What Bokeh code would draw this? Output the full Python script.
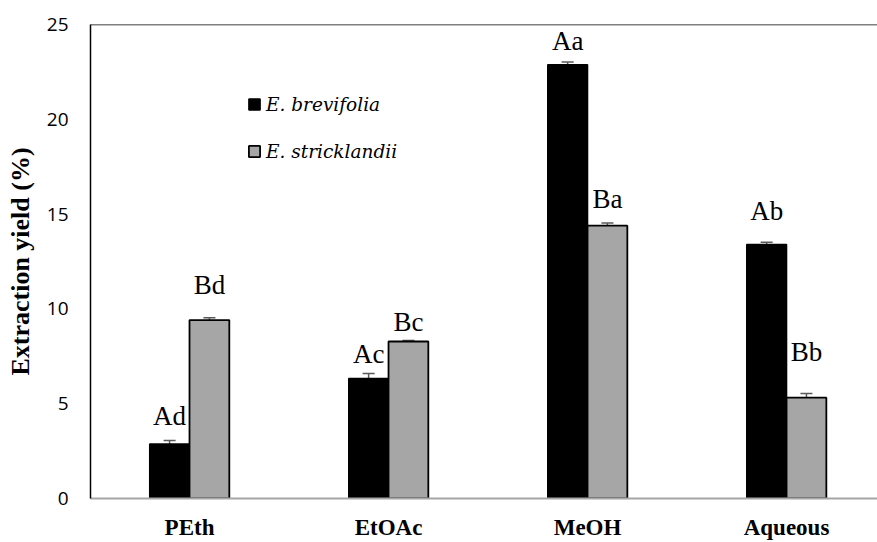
import numpy as np
from bokeh.plotting import figure
from bokeh.models import (ColumnDataSource, FixedTicker, Legend, LegendItem, Range1d,
                          Span, Whisker, TeeHead)
from bokeh.core.properties import value
from bokeh.embed import file_html
from bokeh.resources import INLINE

# ---- data ----
categories = ["PEth", "EtOAc", "MeOH", "Aqueous"]
series_names = ["E. brevifolia", "E. stricklandii"]
brevifolia = [2.87, 6.33, 22.88, 13.40]
brevifolia_err = [0.19, 0.26, 0.14, 0.12]
stricklandii = [9.41, 8.28, 14.39, 5.32]
stricklandii_err = [0.12, 0.05, 0.14, 0.22]
brevifolia_letters = ["Ad", "Ac", "Aa", "Ab"]
stricklandii_letters = ["Bd", "Bc", "Ba", "Bb"]
y_ticks = [0, 5, 10, 15, 20, 25]

# ---- style ----
BAR_W = 0.2
BLACK = "#000000"
GREY = "#a6a6a6"
ERR = "#5a5a5a"
brev_label_off = [24, 20, 21, 31]   # px above error cap
stri_label_off = [33, 19, 24, 41]

xc = np.arange(1, len(categories) + 1, dtype=float)
b_top = np.array(brevifolia) + np.array(brevifolia_err)
s_top = np.array(stricklandii) + np.array(stricklandii_err)

src_b = ColumnDataSource(dict(x=xc - BAR_W / 2, top=brevifolia, up=b_top,
                              lab=brevifolia_letters, off=[-o for o in brev_label_off]))
src_s = ColumnDataSource(dict(x=xc + BAR_W / 2, top=stricklandii, up=s_top,
                              lab=stricklandii_letters, off=[-o for o in stri_label_off]))

p = figure(width=877, height=542, output_backend="svg", toolbar_location=None,
           x_range=Range1d(0.5025, 4.457), y_range=Range1d(0, 25),
           min_border_left=90, min_border_right=0, min_border_top=24, min_border_bottom=39)
p.outline_line_color = None
p.xgrid.visible = False
p.ygrid.visible = False
p.background_fill_color = "white"
p.border_fill_color = "white"

rb = p.vbar(x="x", top="top", width=BAR_W, bottom=0, source=src_b,
            fill_color=BLACK, line_color=BLACK, line_width=1.5)
rs = p.vbar(x="x", top="top", width=BAR_W, bottom=0, source=src_s,
            fill_color=GREY, line_color=BLACK, line_width=1.8)

for src in (src_b, src_s):
    w = Whisker(source=src, base="x", lower="top", upper="up",
                line_color=ERR, line_width=1.5,
                upper_head=TeeHead(size=12, line_color=ERR, line_width=1.5),
                lower_head=None)
    p.add_layout(w)
    p.text(x="x", y="up", text="lab", source=src, y_offset="off",
           text_font=value("Liberation Serif"), text_font_size="27px",
           text_align="center", text_baseline="middle", text_color="black")

# top border
p.add_layout(Span(location=25, dimension="width", line_color="black", line_width=1.5))

# y axis
p.yaxis.ticker = FixedTicker(ticks=y_ticks)
p.yaxis.major_tick_line_color = None
p.yaxis.minor_tick_line_color = None
p.yaxis.major_tick_out = 0
p.yaxis.major_tick_in = 0
p.yaxis.axis_line_color = "black"
p.yaxis.axis_line_width = 1.5
p.yaxis.major_label_text_font = "Open Sans"
p.yaxis.major_label_text_font_size = "19px"
p.yaxis.major_label_text_color = "black"
p.yaxis.major_label_standoff = 22
p.yaxis.axis_label = "Extraction yield (%)"
p.yaxis.axis_label_text_font = "Liberation Serif"
p.yaxis.axis_label_text_font_style = "bold"
p.yaxis.axis_label_text_font_size = "26px"
p.yaxis.axis_label_text_color = "black"
p.yaxis.axis_label_standoff = 9

# x axis
p.xaxis.ticker = FixedTicker(ticks=list(xc))
p.xaxis.major_label_overrides = {float(v): c for v, c in zip(xc, categories)}
p.xaxis.major_label_overrides.update({int(v): c for v, c in zip(xc, categories)})
p.xaxis.major_tick_line_color = None
p.xaxis.minor_tick_line_color = None
p.xaxis.major_tick_out = 0
p.xaxis.major_tick_in = 0
p.xaxis.axis_line_color = "#a6a6a6"
p.xaxis.axis_line_width = 2
p.xaxis.major_label_text_font = "Liberation Serif"
p.xaxis.major_label_text_font_style = "bold"
p.xaxis.major_label_text_font_size = "23px"
p.xaxis.major_label_text_color = "black"
p.xaxis.major_label_standoff = 16

legend = Legend(items=[LegendItem(label=series_names[0], renderers=[rb]),
                       LegendItem(label=series_names[1], renderers=[rs])],
                location=(157, 336), orientation="vertical",
                padding=0, margin=0, spacing=25, label_height=22,
                glyph_width=14, glyph_height=14, label_standoff=5,
                border_line_color=None, background_fill_alpha=0,
                label_text_font="DejaVu Serif", label_text_font_style="italic",
                label_text_font_size="18.5px", label_text_color="black")
p.add_layout(legend)

open("out.html", "w").write(file_html(p, INLINE))
